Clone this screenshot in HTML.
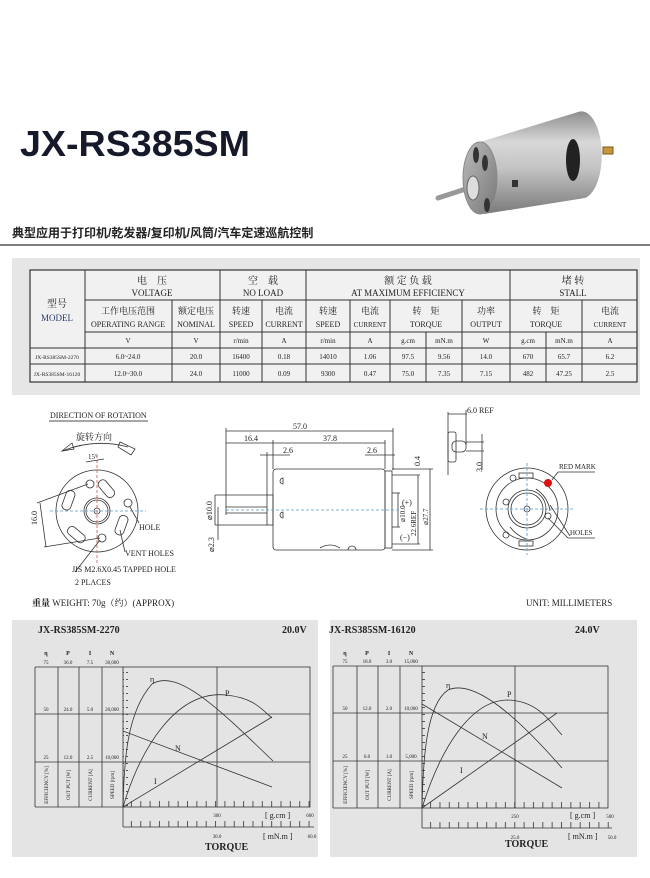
<!DOCTYPE html>
<html><head><meta charset="utf-8"><style>
html,body{margin:0;padding:0;background:#fff;}
svg{display:block;}
text{font-family:"Liberation Serif","Noto Serif CJK SC",serif;fill:#222;}
.s{font-family:"Liberation Sans","Noto Sans CJK SC",sans-serif;}
</style></head><body>
<svg width="650" height="878" viewBox="0 0 650 878" xmlns="http://www.w3.org/2000/svg">
<defs>
<linearGradient id="cyl" x1="0" y1="0" x2="0" y2="1">
<stop offset="0" stop-color="#8e8e8e"/><stop offset="0.3" stop-color="#d8d8d8"/><stop offset="0.55" stop-color="#c4c4c4"/><stop offset="1" stop-color="#7a7a7a"/></linearGradient>
<linearGradient id="face" x1="0" y1="0" x2="1" y2="1">
<stop offset="0" stop-color="#bbb"/><stop offset="1" stop-color="#777"/></linearGradient>
<pattern id="vt" width="7" height="7" patternUnits="userSpaceOnUse"><line x1="0" y1="0.5" x2="5" y2="0.5" stroke="#333" stroke-width="0.8"/></pattern>
<pattern id="ht" width="9.35" height="7" patternUnits="userSpaceOnUse"><line x1="0.5" y1="0" x2="0.5" y2="7" stroke="#333" stroke-width="0.8"/></pattern>
</defs>
<rect width="650" height="878" fill="#fff"/>
<!-- title -->
<text x="20" y="156" class="s" font-size="36" font-weight="bold" fill="#15192a" style="fill:#15192a" textLength="230" lengthAdjust="spacingAndGlyphs">JX-RS385SM</text>
<text x="12" y="237" class="s" font-size="12" font-weight="bold">典型应用于打印机/乾发器/复印机/风筒/汽车定速巡航控制</text>
<line x1="0" y1="245" x2="650" y2="245" stroke="#555" stroke-width="1.5"/>
<!-- motor photo -->
<line x1="438" y1="198" x2="472" y2="187" stroke="#999" stroke-width="5" stroke-linecap="round"/>
<path d="M480,142 L578,112 A20,43 0 0 1 585,198 L484,214 Z" fill="url(#cyl)"/>
<ellipse cx="480" cy="178" rx="17" ry="36" fill="url(#face)" stroke="#888"/>
<ellipse cx="473" cy="188" rx="6" ry="12" fill="#ddd" stroke="#666"/>
<ellipse cx="476" cy="155" rx="3" ry="8" fill="#333"/>
<ellipse cx="485" cy="163" rx="3" ry="8" fill="#333"/>
<ellipse cx="487" cy="205" rx="3" ry="7" fill="#333"/>
<ellipse cx="573" cy="160" rx="7" ry="21" fill="#222"/>
<rect x="512" y="180" width="6" height="7" fill="#333"/>
<rect x="603" y="147" width="10" height="7" fill="#c8963c" stroke="#7a5a20"/>
<!-- table -->
<rect x="12" y="258" width="628" height="137" fill="#e6e6e6"/>
<rect x="30" y="270" width="607" height="112" fill="#f1f1f1" stroke="#333" stroke-width="1.2"/>
<g stroke="#333" stroke-width="1">
<line x1="85" y1="300" x2="637" y2="300"/><line x1="85" y1="332" x2="637" y2="332"/>
<line x1="30" y1="348" x2="637" y2="348"/><line x1="30" y1="364" x2="637" y2="364"/>
<line x1="85" y1="270" x2="85" y2="382"/><line x1="220" y1="270" x2="220" y2="382"/>
<line x1="306" y1="270" x2="306" y2="382"/><line x1="510" y1="270" x2="510" y2="382"/>
<line x1="172" y1="300" x2="172" y2="382"/><line x1="262" y1="300" x2="262" y2="382"/>
<line x1="350" y1="300" x2="350" y2="382"/><line x1="390" y1="300" x2="390" y2="382"/>
<line x1="462" y1="300" x2="462" y2="382"/><line x1="582" y1="300" x2="582" y2="382"/>
<line x1="426" y1="332" x2="426" y2="382"/><line x1="546" y1="332" x2="546" y2="382"/>
</g>
<g font-size="9" text-anchor="middle">
<text x="152" y="284" font-size="10">电　压</text><text x="152" y="296">VOLTAGE</text>
<text x="263" y="284" font-size="10">空　载</text><text x="263" y="296">NO LOAD</text>
<text x="408" y="284" font-size="10">额 定 负 载</text><text x="408" y="296">AT MAXIMUM EFFICIENCY</text>
<text x="573" y="284" font-size="10">堵 转</text><text x="573" y="296">STALL</text>
<text x="57" y="307" font-size="10">型号</text><text x="57" y="321" style="fill:#2a3a6a">MODEL</text>
<text x="128" y="314">工作电压范围</text><text x="128" y="327" font-size="8">OPERATING RANGE</text>
<text x="196" y="314">额定电压</text><text x="196" y="327" font-size="8">NOMINAL</text>
<text x="241" y="314">转速</text><text x="241" y="327" font-size="8">SPEED</text>
<text x="284" y="314">电流</text><text x="284" y="327" font-size="8">CURRENT</text>
<text x="328" y="314">转速</text><text x="328" y="327" font-size="8">SPEED</text>
<text x="370" y="314">电流</text><text x="370" y="327" font-size="7">CURRENT</text>
<text x="426" y="314">转　矩</text><text x="426" y="327" font-size="8">TORQUE</text>
<text x="486" y="314">功率</text><text x="486" y="327" font-size="8">OUTPUT</text>
<text x="546" y="314">转　矩</text><text x="546" y="327" font-size="8">TORQUE</text>
<text x="610" y="314">电流</text><text x="610" y="327" font-size="7">CURRENT</text>
</g>
<g font-size="7" text-anchor="middle">
<text x="128" y="343">V</text><text x="196" y="343">V</text><text x="241" y="343">r/min</text><text x="284" y="343">A</text>
<text x="328" y="343">r/min</text><text x="370" y="343">A</text><text x="408" y="343">g.cm</text><text x="444" y="343">mN.m</text>
<text x="486" y="343">W</text><text x="528" y="343">g.cm</text><text x="564" y="343">mN.m</text><text x="610" y="343">A</text>
<text x="57" y="359" font-size="5.5">JX-RS385SM-2270</text><text x="128" y="359">6.0~24.0</text><text x="196" y="359">20.0</text>
<text x="241" y="359">16400</text><text x="284" y="359">0.18</text><text x="328" y="359">14010</text><text x="370" y="359">1.06</text>
<text x="408" y="359">97.5</text><text x="444" y="359">9.56</text><text x="486" y="359">14.0</text><text x="528" y="359">670</text>
<text x="564" y="359">65.7</text><text x="610" y="359">6.2</text>
<text x="57" y="376" font-size="5.5">JX-RS385SM-16120</text><text x="128" y="376">12.0~30.0</text><text x="196" y="376">24.0</text>
<text x="241" y="376">11000</text><text x="284" y="376">0.09</text><text x="328" y="376">9300</text><text x="370" y="376">0.47</text>
<text x="408" y="376">75.0</text><text x="444" y="376">7.35</text><text x="486" y="376">7.15</text><text x="528" y="376">482</text>
<text x="564" y="376">47.25</text><text x="610" y="376">2.5</text>
</g>
<!-- left end view -->
<g fill="none" stroke="#333" stroke-width="0.8">
<text x="50" y="418" font-size="8" stroke="none">DIRECTION OF ROTATION</text>
<line x1="49" y1="421" x2="148" y2="421" stroke="#888" stroke-width="1.5"/>
<text x="76" y="440" font-size="9" stroke="none">旋转方向</text>
<path d="M62,451 Q95,438 128,447"/><path d="M62,451 L72,443 L74,449 Z"/><path d="M120,442 L135,449 L131,455 L118,447 Z"/>
<circle cx="97" cy="511" r="41"/><circle cx="97" cy="511" r="13"/><circle cx="97" cy="511" r="11"/><circle cx="97" cy="511" r="3"/>
<circle cx="90" cy="484" r="4"/><circle cx="102" cy="538" r="4"/><circle cx="128" cy="503" r="4"/>
<rect x="64" y="490" width="9" height="20" rx="4" transform="rotate(20 68 500)"/>
<rect x="102" y="479" width="9" height="20" rx="4" transform="rotate(-40 106 489)"/>
<rect x="117" y="515" width="9" height="20" rx="4" transform="rotate(20 121 525)"/>
<rect x="72" y="525" width="9" height="20" rx="4" transform="rotate(-50 76 535)"/>
<line x1="50" y1="511" x2="146" y2="511" stroke="#59c" stroke-dasharray="3,2"/>
<line x1="97" y1="455" x2="97" y2="565" stroke="#c55" stroke-dasharray="3,2"/>
<line x1="37" y1="503" x2="88" y2="484"/><line x1="44" y1="547" x2="100" y2="538"/><line x1="40" y1="503" x2="46" y2="547"/>
<line x1="86" y1="462" x2="104" y2="459"/>
<line x1="130" y1="507" x2="139" y2="523"/><line x1="120" y1="530" x2="125" y2="552"/><line x1="100" y1="540" x2="75" y2="572"/>
</g>
<g font-size="8">
<text x="88" y="459" font-size="7">15°</text>
<text x="32" y="530" font-size="8" transform="rotate(-90 32 525)">16.0</text>
<text x="139" y="530">HOLE</text><text x="125" y="556">VENT HOLES</text>
<text x="72" y="572">JIS M2.6X0.45 TAPPED HOLE</text><text x="75" y="585">2 PLACES</text>
<text x="32" y="606" font-size="9"><tspan font-weight="bold">重量</tspan> WEIGHT: 70g（约）(APPROX)</text>
<text x="526" y="606" font-size="9">UNIT: MILLIMETERS</text>
</g>
<!-- side view -->
<g fill="none" stroke="#333" stroke-width="0.8">
<line x1="226" y1="428" x2="226" y2="515"/><line x1="393" y1="428" x2="393" y2="470"/>
<line x1="226" y1="431" x2="393" y2="431"/>
<line x1="226" y1="443" x2="385" y2="443"/><line x1="273" y1="440" x2="273" y2="469"/><line x1="385" y1="440" x2="385" y2="469"/>
<line x1="260" y1="455" x2="290" y2="455"/><line x1="267" y1="452" x2="267" y2="495"/>
<line x1="365" y1="455" x2="395" y2="455"/>
<rect x="273" y="469" width="112" height="81" rx="3"/>
<rect x="385" y="471" width="7" height="77"/>
<rect x="267" y="495" width="6" height="30"/>
<line x1="215" y1="495" x2="267" y2="495"/><line x1="215" y1="525" x2="267" y2="525"/>
<line x1="226" y1="507" x2="267" y2="507"/><line x1="226" y1="513" x2="267" y2="513"/>
<line x1="215" y1="495" x2="215" y2="525"/><line x1="218" y1="507" x2="218" y2="540"/>
<line x1="392" y1="469" x2="433" y2="469"/><line x1="392" y1="550" x2="433" y2="550"/>
<line x1="430" y1="469" x2="430" y2="550"/><line x1="392" y1="475" x2="420" y2="475"/><line x1="392" y1="544" x2="420" y2="544"/>
<line x1="418" y1="475" x2="418" y2="544"/><line x1="392" y1="493" x2="400" y2="493"/><line x1="392" y1="527" x2="400" y2="527"/><line x1="398" y1="493" x2="398" y2="527"/>
<path d="M283,478 a3,3 0 0 0 0,6 Z"/><path d="M283,512 a3,3 0 0 0 0,6 Z"/>
<path d="M320,548 q10,-6 20,0"/><path d="M348,550 a4,4 0 0 1 8,0"/>
<line x1="226" y1="510" x2="400" y2="510" stroke="#59c" stroke-dasharray="3,2"/>
</g>
<g font-size="8">
<text x="300" y="429" text-anchor="middle">57.0</text><text x="251" y="441" text-anchor="middle">16.4</text>
<text x="330" y="441" text-anchor="middle">37.8</text><text x="288" y="453" text-anchor="middle">2.6</text>
<text x="372" y="453" text-anchor="middle">2.6</text>
<text x="402" y="505">(+)</text><text x="400" y="540">(−)</text>
<text x="0" y="0" transform="translate(420,466) rotate(-90)">0.4</text>
<text x="0" y="0" transform="translate(212,520) rotate(-90)">⌀10.0</text>
<text x="0" y="0" transform="translate(214,552) rotate(-90)">⌀2.3</text>
<text x="0" y="0" transform="translate(405,522) rotate(-90)" font-size="7">⌀10.0</text>
<text x="0" y="0" transform="translate(416,536) rotate(-90)" font-size="7">22.6REF</text>
<text x="0" y="0" transform="translate(428,525) rotate(-90)" font-size="7">⌀27.7</text>
</g>
<!-- right views -->
<g fill="none" stroke="#333" stroke-width="0.8">
<line x1="448" y1="412" x2="448" y2="475"/><line x1="448" y1="414" x2="467" y2="414"/><line x1="466" y1="410" x2="466" y2="445"/>
<rect x="448" y="432" width="8" height="30" rx="2"/><rect x="452" y="441" width="14" height="11" rx="4"/>
<line x1="466" y1="442" x2="484" y2="442"/><line x1="466" y1="451" x2="484" y2="451"/><line x1="482" y1="434" x2="482" y2="470"/>
<circle cx="527" cy="509" r="41"/><circle cx="527" cy="509" r="31"/><circle cx="527" cy="509" r="19"/><circle cx="527" cy="509" r="16"/><circle cx="527" cy="509" r="3"/>
<circle cx="513" cy="478" r="3"/><circle cx="506" cy="502" r="3"/><circle cx="548" cy="516" r="3"/><circle cx="506" cy="535" r="3"/>
<rect x="519" y="473" width="14" height="5"/><rect x="519" y="541" width="14" height="5"/>
<path d="M536,489 q12,8 14,22"/><path d="M510,527 q6,8 16,12"/>
<line x1="480" y1="509" x2="574" y2="509" stroke="#59c" stroke-dasharray="3,2"/>
<line x1="527" y1="463" x2="527" y2="555" stroke="#59c" stroke-dasharray="3,2"/>
<line x1="552" y1="480" x2="558" y2="472"/><line x1="558" y1="472" x2="595" y2="472"/>
<line x1="548" y1="518" x2="568" y2="538"/><line x1="550" y1="505" x2="570" y2="536"/><line x1="568" y1="538" x2="595" y2="538"/>
</g>
<circle cx="548" cy="483" r="4" fill="#e01010"/>
<g font-size="7">
<text x="467" y="413" font-size="8">6.0 REF</text>
<text x="0" y="0" transform="translate(482,472) rotate(-90)" font-size="8">3.0</text>
<text x="559" y="469">RED MARK</text><text x="570" y="535">HOLES</text>
</g>
<!-- charts -->
<g id="c1">
<rect x="12" y="620" width="306" height="237" fill="#e4e4e4"/>
<text x="38" y="633" font-size="10" font-weight="bold">JX-RS385SM-2270</text>
<text x="282" y="633" font-size="10" font-weight="bold">20.0V</text>
<rect x="123" y="667" width="5" height="140" fill="url(#vt)"/>
<rect x="123" y="801" width="187" height="6" fill="url(#ht)"/>
<rect x="123" y="821" width="190" height="6" fill="url(#ht)"/>
<g fill="none" stroke="#333" stroke-width="0.8">
<rect x="123" y="667" width="187" height="140"/>
<line x1="35" y1="667" x2="123" y2="667"/><line x1="35" y1="714" x2="310" y2="714"/><line x1="35" y1="762" x2="310" y2="762"/><line x1="35" y1="807" x2="123" y2="807"/>
<line x1="35" y1="667" x2="35" y2="807"/><line x1="58" y1="667" x2="58" y2="807"/><line x1="79" y1="667" x2="79" y2="807"/><line x1="102" y1="667" x2="102" y2="807"/>
<line x1="217" y1="667" x2="217" y2="807"/>
<line x1="123" y1="807" x2="123" y2="827"/><line x1="123" y1="827" x2="314" y2="827"/>
<path d="M123,807 C124,760 127,712 152,684 C178,668 220,710 273,761"/>
<path d="M123,807 C140,750 175,690 226,695 C255,698 262,710 272,718"/>
<line x1="123" y1="731" x2="272" y2="787"/>
<line x1="123" y1="807" x2="272" y2="717"/>
</g>
<g font-size="5" text-anchor="middle">
<text x="46" y="655" font-size="6" font-weight="bold">η</text><text x="68" y="655" font-size="6" font-weight="bold">P</text><text x="90" y="655" font-size="6" font-weight="bold">I</text><text x="112" y="655" font-size="6" font-weight="bold">N</text>
<text x="46" y="664">75</text><text x="68" y="664">36.0</text><text x="90" y="664">7.5</text><text x="112" y="664">30,000</text>
<text x="46" y="711">50</text><text x="68" y="711">24.0</text><text x="90" y="711">5.0</text><text x="112" y="711">20,000</text>
<text x="46" y="759">25</text><text x="68" y="759">12.0</text><text x="90" y="759">2.5</text><text x="112" y="759">10,000</text>
<text x="217" y="817">300</text><text x="310" y="817">600</text><text x="217" y="838">30.0</text><text x="312" y="838">60.0</text>
<text transform="translate(48,785) rotate(-90)">EFFICIENCY [%]</text><text transform="translate(70,785) rotate(-90)">OUT PUT [W]</text>
<text transform="translate(92,785) rotate(-90)">CURRENT [A]</text><text transform="translate(114,785) rotate(-90)">SPEED [rpm]</text>
</g>
<g font-size="8"><text x="150" y="682">η</text><text x="225" y="696">P</text><text x="175" y="751">N</text><text x="154" y="784">I</text>
<text x="265" y="818">[ g.cm ]</text><text x="263" y="839">[ mN.m ]</text>
<text x="205" y="850" font-size="10" font-weight="bold">TORQUE</text></g>
</g>
<g id="c2">
<rect x="330" y="620" width="307" height="237" fill="#e4e4e4"/>
<text x="329" y="633" font-size="10" font-weight="bold">JX-RS385SM-16120</text>
<text x="575" y="633" font-size="10" font-weight="bold">24.0V</text>
<rect x="422" y="666" width="5" height="142" fill="url(#vt)"/>
<rect x="422" y="802" width="186" height="6" fill="url(#ht)"/>
<rect x="422" y="822" width="190" height="6" fill="url(#ht)"/>
<g fill="none" stroke="#333" stroke-width="0.8">
<rect x="422" y="666" width="186" height="142"/>
<line x1="333" y1="666" x2="422" y2="666"/><line x1="333" y1="713" x2="608" y2="713"/><line x1="333" y1="761" x2="608" y2="761"/><line x1="333" y1="808" x2="422" y2="808"/>
<line x1="333" y1="666" x2="333" y2="808"/><line x1="357" y1="666" x2="357" y2="808"/><line x1="378" y1="666" x2="378" y2="808"/><line x1="400" y1="666" x2="400" y2="808"/>
<line x1="515" y1="666" x2="515" y2="808"/>
<line x1="422" y1="808" x2="422" y2="828"/><line x1="422" y1="828" x2="612" y2="828"/>
<path d="M422,808 C423,760 426,705 448,690 C475,678 520,720 562,768"/>
<path d="M422,808 C440,750 470,700 508,700 C540,701 552,725 562,735"/>
<line x1="422" y1="704" x2="562" y2="788"/>
<line x1="422" y1="808" x2="557" y2="713"/>
</g>
<g font-size="5" text-anchor="middle">
<text x="345" y="655" font-size="6" font-weight="bold">η</text><text x="367" y="655" font-size="6" font-weight="bold">P</text><text x="389" y="655" font-size="6" font-weight="bold">I</text><text x="411" y="655" font-size="6" font-weight="bold">N</text>
<text x="345" y="663">75</text><text x="367" y="663">18.0</text><text x="389" y="663">3.0</text><text x="411" y="663">15,000</text>
<text x="345" y="710">50</text><text x="367" y="710">12.0</text><text x="389" y="710">2.0</text><text x="411" y="710">10,000</text>
<text x="345" y="758">25</text><text x="367" y="758">6.0</text><text x="389" y="758">1.0</text><text x="411" y="758">5,000</text>
<text x="515" y="818">250</text><text x="610" y="818">500</text><text x="515" y="839">25.0</text><text x="612" y="839">50.0</text>
<text transform="translate(347,785) rotate(-90)">EFFICIENCY [%]</text><text transform="translate(369,785) rotate(-90)">OUT PUT [W]</text>
<text transform="translate(391,785) rotate(-90)">CURRENT [A]</text><text transform="translate(413,785) rotate(-90)">SPEED [rpm]</text>
</g>
<g font-size="8"><text x="446" y="688">η</text><text x="507" y="697">P</text><text x="482" y="739">N</text><text x="460" y="773">I</text>
<text x="570" y="818">[ g.cm ]</text><text x="568" y="839">[ mN.m ]</text>
<text x="505" y="847" font-size="10" font-weight="bold">TORQUE</text></g>
</g>
</svg>
</body></html>
